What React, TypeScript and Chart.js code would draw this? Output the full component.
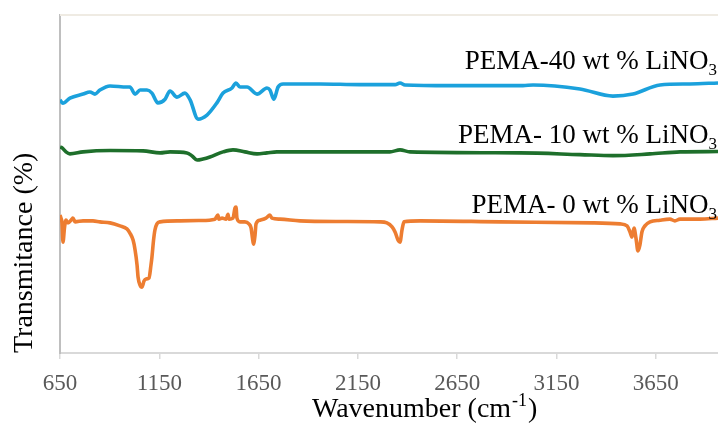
import React, { useEffect, useRef } from "react";
import { Chart, registerables } from "chart.js";

Chart.register(...registerables);

// PEMA-40 wt % LiNO3 (blue)
const pema40Wn = [650, 664, 700, 766, 801, 826, 851, 902, 987, 1002, 1028, 1053, 1088, 1113, 1143, 1179, 1204, 1239, 1279, 1305, 1345, 1390, 1440, 1471, 1516, 1536, 1556, 1592, 1642, 1692, 1707, 1727, 1748, 1773, 1959, 2160, 2337, 2362, 2387, 2614, 2981, 3032, 3268, 3434, 3535, 3671, 3822, 3963];
const pema40T = [74.9, 73.9, 75.4, 76.6, 77.2, 76.6, 77.8, 79.0, 78.7, 78.7, 76.6, 77.8, 77.8, 76.9, 74.0, 75.1, 77.5, 75.7, 76.9, 74.9, 69.2, 70.4, 74.0, 76.9, 78.4, 79.9, 78.7, 78.7, 76.6, 78.4, 77.8, 75.1, 78.7, 79.6, 79.6, 79.4, 79.4, 79.9, 79.3, 79.1, 79.1, 79.3, 78.1, 76.0, 76.6, 79.3, 79.6, 79.9];

// PEMA- 10 wt % LiNO3 (green)
const pema10Wn = [650, 660, 680, 700, 766, 902, 1068, 1154, 1204, 1289, 1315, 1340, 1370, 1405, 1471, 1521, 1581, 1642, 1692, 1742, 1959, 2311, 2362, 2412, 2966, 3268, 3434, 3621, 3772, 3963];
const pema10T = [60.9, 60.7, 59.5, 58.9, 59.5, 59.9, 59.8, 59.2, 59.5, 59.2, 58.3, 57.1, 57.4, 58.0, 59.5, 60.1, 59.5, 58.9, 59.2, 59.5, 59.5, 59.5, 60.1, 59.5, 59.2, 58.7, 58.4, 58.9, 59.5, 59.6];

// PEMA- 0 wt % LiNO3 (orange)
const pema0Wn = [650, 655, 660, 665, 673, 680, 690, 710, 715, 726, 766, 816, 851, 902, 952, 987, 1002, 1018, 1028, 1038, 1043, 1053, 1063, 1073, 1083, 1098, 1108, 1113, 1121, 1128, 1138, 1154, 1254, 1355, 1430, 1445, 1450, 1466, 1486, 1496, 1501, 1521, 1531, 1536, 1541, 1556, 1581, 1601, 1612, 1619, 1624, 1632, 1637, 1657, 1687, 1707, 1717, 1758, 1858, 2060, 2261, 2296, 2322, 2337, 2352, 2362, 2372, 2382, 2463, 2865, 3334, 3470, 3505, 3520, 3530, 3540, 3550, 3560, 3570, 3580, 3595, 3621, 3671, 3721, 3746, 3771, 3872, 3963];
const pema0T = [40.8, 39.9, 38.5, 32.8, 37.3, 39.3, 38.5, 39.6, 39.9, 38.8, 39.1, 39.1, 38.8, 38.5, 37.6, 36.7, 35.5, 33.4, 30.5, 26.0, 22.5, 20.1, 19.5, 21.3, 21.9, 22.2, 26.0, 28.4, 33.4, 36.4, 38.2, 38.8, 39.1, 39.2, 39.6, 40.8, 39.6, 39.9, 39.6, 41.0, 39.6, 39.9, 42.9, 43.2, 39.9, 38.8, 38.8, 38.2, 37.0, 34.0, 32.2, 34.9, 38.2, 39.3, 39.9, 40.8, 39.9, 39.6, 39.1, 38.9, 38.8, 38.5, 37.3, 35.8, 33.4, 32.8, 36.4, 38.8, 39.1, 38.8, 38.5, 38.2, 37.6, 35.8, 34.3, 37.0, 34.0, 30.2, 32.0, 35.8, 37.6, 38.8, 39.3, 39.6, 39.1, 39.6, 39.6, 39.9];

const xTicks = [650, 1150, 1650, 2150, 2650, 3150, 3650];
const seriesLabels = ["PEMA-40 wt % LiNO", "PEMA- 10 wt % LiNO", "PEMA- 0 wt % LiNO"];
const seriesSub = "3";
const seriesColors = ["#1ba1dc", "#1e6f2b", "#ed7d31"];
const xTitle = "Wavenumber (cm";
const xTitleSup = "-1";
const yTitle = "Transmitance (%)";

const SERIF = "'Liberation Serif', 'Times New Roman', serif";

function toPoints(xs: number[], ys: number[]) {
  return xs.map((x, i) => ({ x, y: ys[i] }));
}

const textPlugin = {
  id: "textPlugin",
  afterDraw(chart: any) {
    const ctx = chart.ctx as CanvasRenderingContext2D;
    const area = chart.chartArea;
    ctx.save();
    // top border of the plot area
    ctx.strokeStyle = "#efebe3";
    ctx.lineWidth = 2;
    ctx.beginPath();
    ctx.moveTo(area.left, area.top);
    ctx.lineTo(area.right + 5, area.top);
    ctx.stroke();

    // y title
    ctx.fillStyle = "#000";
    ctx.font = `28px ${SERIF}`;
    ctx.textBaseline = "alphabetic";
    ctx.textAlign = "left";
    ctx.save();
    ctx.translate(32, area.bottom);
    ctx.rotate(-Math.PI / 2);
    ctx.fillText(yTitle, 0, 0);
    ctx.restore();

    // x title with superscript
    const xt0 = 312;
    const xtBase = 417;
    ctx.font = `28px ${SERIF}`;
    ctx.fillText(xTitle, xt0, xtBase);
    const w = ctx.measureText(xTitle).width;
    ctx.font = `18px ${SERIF}`;
    ctx.fillText(xTitleSup, xt0 + w + 1, xtBase - 11);
    const ws = ctx.measureText(xTitleSup).width;
    ctx.font = `28px ${SERIF}`;
    ctx.fillText(")", xt0 + w + ws + 2, xtBase);

    // series labels
    const baselines = [69, 143, 213];
    const rightEdge = 717;
    seriesLabels.forEach((lab, i) => {
      ctx.font = `27px ${SERIF}`;
      const mw = ctx.measureText(lab).width;
      ctx.font = `17px ${SERIF}`;
      const sw = ctx.measureText(seriesSub).width;
      const start = rightEdge - sw - mw;
      ctx.font = `27px ${SERIF}`;
      ctx.fillStyle = "#000";
      ctx.fillText(lab, start, baselines[i]);
      ctx.font = `17px ${SERIF}`;
      ctx.fillText(seriesSub, start + mw, baselines[i] + 6);
    });
    ctx.restore();
  },
};

export default function App() {
  const ref = useRef<HTMLCanvasElement | null>(null);
  useEffect(() => {
    document.body.style.margin = "0";
    const canvas = ref.current;
    if (!canvas) return;
    const chart = new Chart(canvas, {
      type: "line",
      data: {
        datasets: [
          {
            label: seriesLabels[0] + seriesSub,
            data: toPoints(pema40Wn, pema40T),
            borderColor: seriesColors[0],
            borderWidth: 3.6,
            pointRadius: 0,
            cubicInterpolationMode: "monotone",
          },
          {
            label: seriesLabels[1] + seriesSub,
            data: toPoints(pema10Wn, pema10T),
            borderColor: seriesColors[1],
            borderWidth: 3.6,
            pointRadius: 0,
            cubicInterpolationMode: "monotone",
          },
          {
            label: seriesLabels[2] + seriesSub,
            data: toPoints(pema0Wn, pema0T),
            borderColor: seriesColors[2],
            borderWidth: 3.6,
            pointRadius: 0,
            cubicInterpolationMode: "monotone",
          },
        ],
      },
      options: {
        responsive: false,
        animation: false,
        devicePixelRatio: 1,
        layout: { padding: { top: 15, right: 0, bottom: 0, left: 0 } },
        plugins: { legend: { display: false }, tooltip: { enabled: false }, title: { display: false } },
        scales: {
          x: {
            type: "linear",
            min: 650,
            max: 3963,
            afterBuildTicks: (scale: any) => {
              scale.ticks = xTicks.map((v) => ({ value: v }));
            },
            afterFit: (scale: any) => {
              scale.height = 70;
            },
            ticks: {
              color: "#595959",
              font: { family: SERIF, size: 23 },
              padding: 11,
              maxRotation: 0,
              autoSkip: false,
              callback: (v: any) => String(v),
            },
            grid: {
              display: true,
              drawOnChartArea: false,
              drawTicks: true,
              tickLength: 6,
              color: "#d9d9d9",
              lineWidth: 1.5,
            },
            border: { display: true, color: "#d9d9d9", width: 2 },
          },
          y: {
            type: "linear",
            min: 0,
            max: 100,
            ticks: { display: false },
            grid: { display: false, drawTicks: false },
            border: { display: true, color: "#bfbfbf", width: 2 },
            afterFit: (scale: any) => {
              scale.width = 60;
            },
          },
        },
      },
      plugins: [textPlugin],
    });
    return () => chart.destroy();
  }, []);
  return (
    <div style={{ width: 718, height: 423, position: "relative", background: "#fff" }}>
      <canvas ref={ref} width={718} height={423} style={{ display: "block" }} />
    </div>
  );
}
